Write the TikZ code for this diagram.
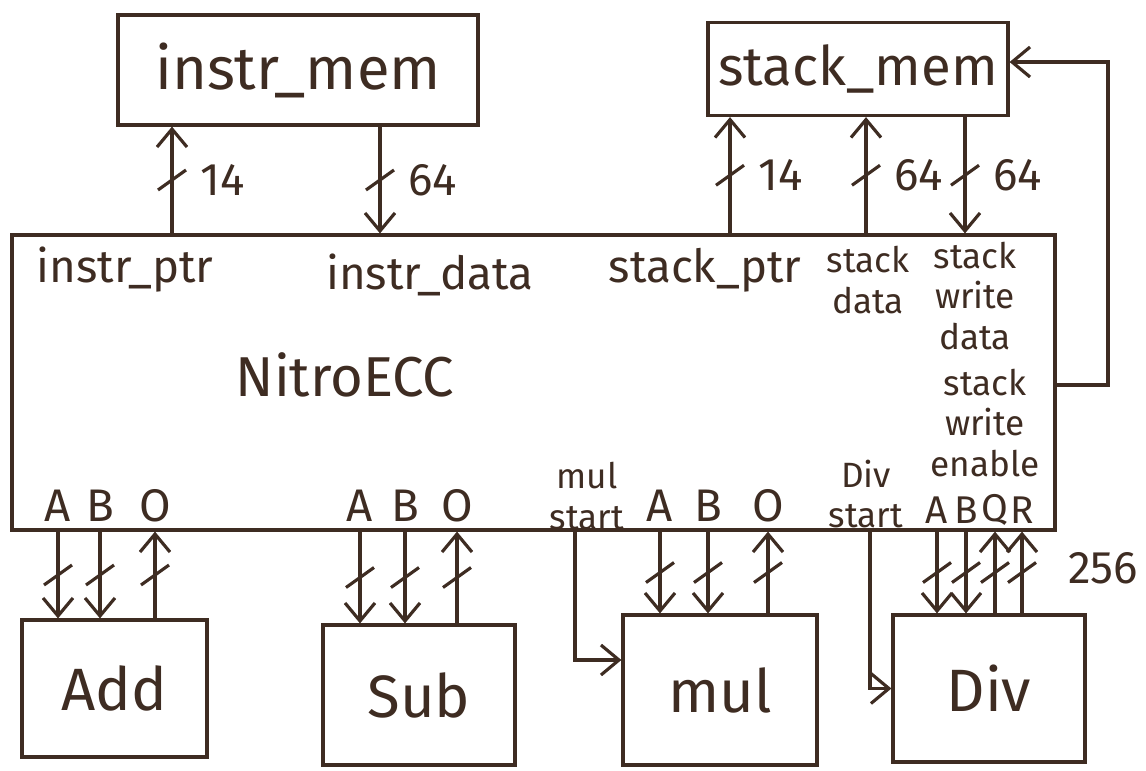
\documentclass[tikz,border=0pt]{standalone}
\usepackage{fontspec}
\setmainfont{Fira Sans}
\usetikzlibrary{arrows.meta,decorations.markings}
\definecolor{ink}{RGB}{62,44,34}

\begin{document}
\begin{tikzpicture}[
  color=ink, line width=0.9pt,
  font=\fontsize{13}{14}\selectfont,
  box/.style={draw, inner sep=0pt},
  big/.style={font=\fontsize{17}{19}\selectfont},
  port/.style={align=center, inner sep=0pt, font=\fontsize{10}{11.6}\selectfont},
  pin/.style={inner sep=0pt, font=\fontsize{13}{14}\selectfont},
  arr/.style={-{Straight Barb[length=1.8mm,width=3mm]}},
  bus/.style={arr, postaction={decorate},
    decoration={markings, mark=at position #1 with
      {\pgftransformresetnontranslations \draw[-] (-1.4mm,-1mm) -- (1.4mm,1mm);}}},
  bus/.default=0.5
]
\useasboundingbox (0,0) rectangle (11.46,-7.70);

% memories
\node[box, big, minimum width=3.6cm, minimum height=1.1cm]  at (2.98,-0.70) (imem) {instr\_mem};
\node[box, big, font=\fontsize{15.5}{17}\selectfont, minimum width=3.0cm, minimum height=0.93cm] at (8.58,-0.69) (smem) {stack\_mem};

% core
\node[box, minimum width=10.43cm, minimum height=2.95cm] at (5.335,-3.825) (cpu) {};
\node[font=\fontsize{16}{18}\selectfont] at (3.45,-3.75) (core) {NitroECC};
\node[port, font=\fontsize{13}{14}\selectfont] at (1.25,-2.70) (iptr) {instr\_ptr};
\node[port, font=\fontsize{13}{14}\selectfont] at (4.30,-2.75) (idat) {instr\_data};
\node[port, font=\fontsize{13}{14}\selectfont] at (7.05,-2.70) (sptr) {stack\_ptr};
\node[port] at (8.68,-2.80) (sdat) {stack\\data};
\node[port] at (9.75,-2.96) (swd)  {stack\\write\\data};
\node[port] at (9.85,-4.23) (swen) {stack\\write\\enable};

% units
\node[box, big, minimum width=1.85cm, minimum height=1.37cm] at (1.145,-6.885) (add) {Add};
\node[box, big, minimum width=1.92cm, minimum height=1.40cm] at (4.19,-6.95)   (sub) {Sub};
\node[box, big, minimum width=1.94cm, minimum height=1.50cm] at (7.20,-6.90)   (mul) {mul};
\node[box, big, minimum width=1.92cm, minimum height=1.47cm] at (9.89,-6.885)  (div) {Div};

% memory buses
\coordinate (wIptr) at (1.72,0);
\coordinate (wIdat) at (3.80,0);
\coordinate (wSptr) at (7.30,0);
\coordinate (wSdat) at (8.66,0);
\coordinate (wSwd)  at (9.65,0);
\draw[bus] (wIptr |- cpu.north) -- node[right=1.5mm]{14} (wIptr |- imem.south);
\draw[bus] (wIdat |- imem.south) -- node[right=1.5mm]{64} (wIdat |- cpu.north);
\draw[bus] (wSptr |- cpu.north) -- node[right=1.5mm]{14} (wSptr |- smem.south);
\draw[bus] (wSdat |- cpu.north) -- node[right=1.5mm]{64} (wSdat |- smem.south);
\draw[bus] (wSwd |- smem.south) -- node[right=1.5mm]{64} (wSwd |- cpu.north);

% write enable back to stack_mem
\coordinate (wWen) at (10.55,-3.85);
\draw[arr] (wWen) -- ++(0.53,0) |- ([yshift=0.7mm]smem.east);

% operand pins
\node[pin] at (0.58,-5.06) (addA) {A};
\node[pin] at (1.00,-5.06) (addB) {B};
\node[pin] at (1.55,-5.06) (addO) {O};
\node[pin] at (3.60,-5.06) (subA) {A};
\node[pin] at (4.05,-5.06) (subB) {B};
\node[pin] at (4.57,-5.06) (subO) {O};
\node[pin] at (6.60,-5.06) (mulA) {A};
\node[pin] at (7.08,-5.06) (mulB) {B};
\node[pin] at (7.68,-5.06) (mulO) {O};
\node[pin, font=\fontsize{11}{12}\selectfont] at (9.37,-5.10) (divA) {A};
\node[pin, font=\fontsize{11}{12}\selectfont] at (9.66,-5.10) (divB) {B};
\node[pin, font=\fontsize{11}{12}\selectfont] at (9.95,-5.10) (divQ) {Q};
\node[pin, font=\fontsize{11}{12}\selectfont] at (10.22,-5.10) (divR) {R};
\node[port] at (5.87,-4.96) (mst) {mul\\start};
\node[port] at (8.66,-4.94) (dst) {Div\\start};

\draw[bus] (addA |- cpu.south) -- (addA |- add.north);
\draw[bus] (addB |- cpu.south) -- (addB |- add.north);
\draw[bus] (addO |- add.north) -- (addO |- cpu.south);
\draw[bus] (subA |- cpu.south) -- (subA |- sub.north);
\draw[bus] (subB |- cpu.south) -- (subB |- sub.north);
\draw[bus] (subO |- sub.north) -- (subO |- cpu.south);
\draw[bus] (mulA |- cpu.south) -- (mulA |- mul.north);
\draw[bus] (mulB |- cpu.south) -- (mulB |- mul.north);
\draw[bus] (mulO |- mul.north) -- (mulO |- cpu.south);
\draw[bus] (divA |- cpu.south) -- (divA |- div.north);
\draw[bus] (divB |- cpu.south) -- (divB |- div.north);
\draw[bus] (divQ |- div.north) -- (divQ |- cpu.south);
\draw[bus] (divR |- div.north) -- node[pos=.55, right=3.3mm]{256} (divR |- cpu.south);

% start strobes
\coordinate (wMst) at (5.75,0);
\coordinate (wDst) at (8.70,0);
\draw[arr] (wMst |- cpu.south) |- ([yshift=3mm]mul.west);
\draw[arr] (wDst |- cpu.south) |- (div.west);
\end{tikzpicture}
\end{document}
